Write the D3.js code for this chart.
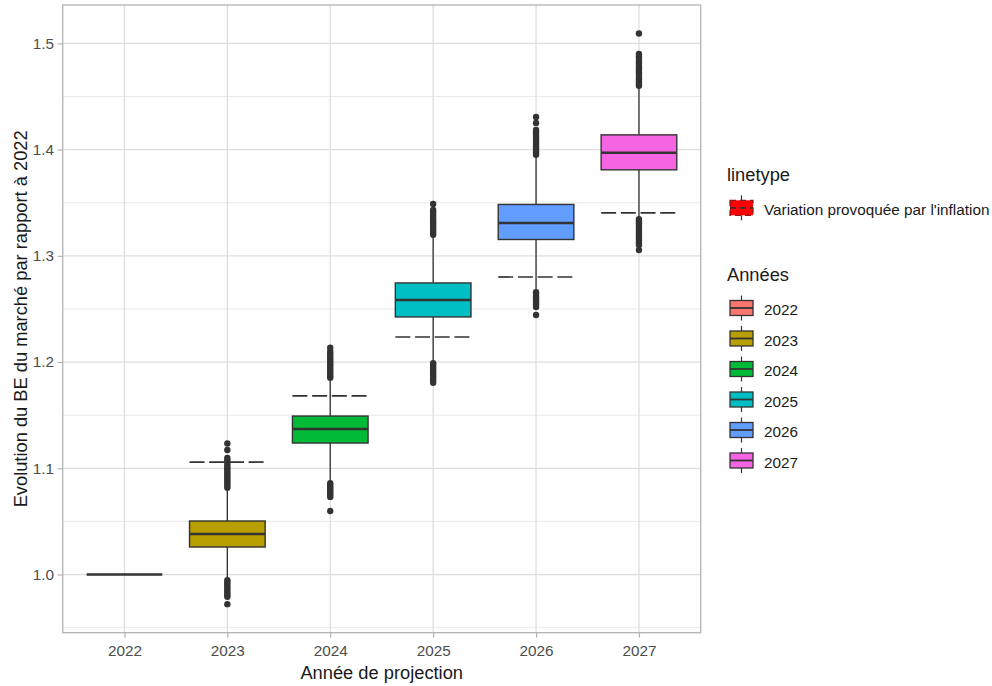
<!DOCTYPE html>
<html>
<head>
<meta charset="utf-8">
<script src="https://cdn.jsdelivr.net/npm/d3@7"></script>
<style>
  html, body { margin: 0; padding: 0; background: #ffffff; }
  svg { display: block; font-family: "Liberation Sans", Arial, sans-serif; }
</style>
</head>
<body>
<svg id="chart" width="992" height="686"></svg>
<script>
// Projected market BE relative to 2022, one boxplot per projection year
const years = ["2022", "2023", "2024", "2025", "2026", "2027"];
const fills = ["#F8766D", "#B79F00", "#00BA38", "#00BFC4", "#619CFF", "#F564E3"];

const lowerWhisker = [1.0000, 0.9948, 1.0862, 1.1992, 1.2660, 1.3347];
const q1           = [1.0000, 1.0259, 1.1238, 1.2425, 1.3154, 1.3810];
const medians      = [1.0000, 1.0381, 1.1370, 1.2585, 1.3310, 1.3970];
const q3           = [1.0000, 1.0504, 1.1492, 1.2745, 1.3484, 1.4139];
const upperWhisker = [1.0000, 1.0814, 1.1850, 1.3197, 1.3950, 1.4600];

// Level implied by inflation alone (dashed segments)
const inflationLevel = [null, 1.1059, 1.1681, 1.2236, 1.2801, 1.3404];

// Outlying simulations beyond the whiskers
const outliers2022 = [];
const outliers2023 = [1.0816, 1.0835, 1.0855, 1.0874, 1.0893, 1.0912, 1.0932, 1.0951, 1.0970, 1.0990,
                      1.1010, 1.1030, 1.1052, 1.1075, 1.1097, 1.1172, 1.1234,
                      0.9946, 0.9928, 0.9907, 0.9885, 0.9866, 0.9846, 0.9827, 0.9808, 0.9790, 0.9721];
const outliers2024 = [1.1852, 1.1871, 1.1890, 1.1910, 1.1931, 1.1952, 1.1972, 1.1991, 1.2012, 1.2033,
                      1.2055, 1.2078, 1.2100, 1.2135,
                      1.0860, 1.0842, 1.0822, 1.0803, 1.0784, 1.0765, 1.0748, 1.0731, 1.0598];
const outliers2025 = [1.3199, 1.3218, 1.3239, 1.3260, 1.3281, 1.3302, 1.3322, 1.3343, 1.3365, 1.3388,
                      1.3410, 1.3432, 1.3489,
                      1.1990, 1.1972, 1.1952, 1.1931, 1.1910, 1.1890, 1.1870, 1.1850, 1.1828, 1.1806];
const outliers2026 = [1.3952, 1.3970, 1.3990, 1.4011, 1.4032, 1.4052, 1.4073, 1.4095, 1.4118, 1.4140,
                      1.4163, 1.4186, 1.4251, 1.4308,
                      1.2658, 1.2640, 1.2620, 1.2600, 1.2580, 1.2560, 1.2540, 1.2519, 1.2443];
const outliers2027 = [1.4602, 1.4622, 1.4642, 1.4662, 1.4683, 1.4704, 1.4725, 1.4746, 1.4767, 1.4788,
                      1.4810, 1.4833, 1.4856, 1.4879, 1.4901, 1.5093,
                      1.3346, 1.3326, 1.3306, 1.3286, 1.3265, 1.3245, 1.3225, 1.3205, 1.3184, 1.3163,
                      1.3142, 1.3122, 1.3102, 1.3054];
const outliers = [outliers2022, outliers2023, outliers2024, outliers2025, outliers2026, outliers2027];

const yMajorTicks = [1.0, 1.1, 1.2, 1.3, 1.4, 1.5];
const yMinorTicks = [0.95, 1.05, 1.15, 1.25, 1.35, 1.45];

const xTitle = "Année de projection";
const yTitle = "Evolution du BE du marché par rapport à 2022";
const linetypeTitle = "linetype";
const linetypeLabel = "Variation provoquée par l'inflation";
const fillTitle = "Années";

// ---- layout ----
const panel = { left: 62.7, right: 700.7, top: 5, bottom: 632.7 };
const svg = d3.select("#chart");

const allValues = d3.merge([lowerWhisker, upperWhisker, ...outliers]);
const lo = d3.min(allValues), hi = d3.max(allValues);
const pad = (hi - lo) * 0.05;

const x = d3.scalePoint().domain(years).range([panel.left, panel.right]).padding(0.6);
const y = d3.scaleLinear().domain([lo - pad, hi + pad]).range([panel.bottom, panel.top]);
const boxW = x.step() * 0.735;

const gridColor = "#DEDEDE";
const frameColor = "#B3B3B3";
const ink = "#333333";

// grid
const grid = svg.append("g");
grid.selectAll("line.minor").data(yMinorTicks).join("line")
  .attr("x1", panel.left).attr("x2", panel.right)
  .attr("y1", d => y(d)).attr("y2", d => y(d))
  .attr("stroke", "#E6E6E6").attr("stroke-width", 0.9);
grid.selectAll("line.major").data(yMajorTicks).join("line")
  .attr("x1", panel.left).attr("x2", panel.right)
  .attr("y1", d => y(d)).attr("y2", d => y(d))
  .attr("stroke", gridColor).attr("stroke-width", 1.3);
grid.selectAll("line.vx").data(years).join("line")
  .attr("x1", d => x(d)).attr("x2", d => x(d))
  .attr("y1", panel.top).attr("y2", panel.bottom)
  .attr("stroke", gridColor).attr("stroke-width", 1.3);

// boxplots
const boxes = svg.append("g").selectAll("g").data(years).join("g");

boxes.append("line")
  .attr("x1", d => x(d)).attr("x2", d => x(d))
  .attr("y1", (d, i) => y(upperWhisker[i])).attr("y2", (d, i) => y(q3[i]))
  .attr("stroke", ink).attr("stroke-width", 1.3);
boxes.append("line")
  .attr("x1", d => x(d)).attr("x2", d => x(d))
  .attr("y1", (d, i) => y(q1[i])).attr("y2", (d, i) => y(lowerWhisker[i]))
  .attr("stroke", ink).attr("stroke-width", 1.3);

boxes.each(function (d, i) {
  d3.select(this).selectAll("circle").data(outliers[i]).join("circle")
    .attr("cx", x(d)).attr("cy", v => y(v)).attr("r", 3.2)
    .attr("fill", ink);
});

boxes.append("rect")
  .attr("x", d => x(d) - boxW / 2).attr("width", boxW)
  .attr("y", (d, i) => y(q3[i])).attr("height", (d, i) => y(q1[i]) - y(q3[i]))
  .attr("fill", (d, i) => fills[i])
  .attr("stroke", ink).attr("stroke-width", 1.4);
boxes.append("line")
  .attr("x1", d => x(d) - boxW / 2).attr("x2", d => x(d) + boxW / 2)
  .attr("y1", (d, i) => y(medians[i])).attr("y2", (d, i) => y(medians[i]))
  .attr("stroke", ink).attr("stroke-width", 2.6);

// inflation reference segments
svg.append("g").selectAll("line")
  .data(years.filter((d, i) => inflationLevel[i] !== null))
  .join("line")
  .attr("x1", d => x(d) - boxW / 2).attr("x2", d => x(d) + boxW / 2)
  .attr("y1", d => y(inflationLevel[years.indexOf(d)]))
  .attr("y2", d => y(inflationLevel[years.indexOf(d)]))
  .attr("stroke", ink).attr("stroke-width", 1.7)
  .attr("stroke-dasharray", "15,4.7");

// panel frame
svg.append("rect")
  .attr("x", panel.left).attr("y", panel.top)
  .attr("width", panel.right - panel.left).attr("height", panel.bottom - panel.top)
  .attr("fill", "none").attr("stroke", frameColor).attr("stroke-width", 1.3);

// axes
const yAxis = svg.append("g")
  .attr("transform", `translate(${panel.left},0)`)
  .call(d3.axisLeft(y).tickValues(yMajorTicks).tickFormat(d3.format(".1f")).tickSize(5).tickPadding(3.6));
const xAxis = svg.append("g")
  .attr("transform", `translate(0,${panel.bottom})`)
  .call(d3.axisBottom(x).tickSize(5).tickPadding(3.6));

[yAxis, xAxis].forEach(g => {
  g.select(".domain").remove();
  g.selectAll(".tick line").attr("stroke", frameColor).attr("stroke-width", 1.2);
  g.selectAll(".tick text")
    .attr("fill", "#4D4D4D")
    .style("font-size", "15.3px")
    .style("font-family", "'Liberation Sans', Arial, sans-serif");
});
xAxis.selectAll(".tick text").attr("dy", null).attr("y", 23.5);

// axis titles
svg.append("text")
  .attr("x", (panel.left + panel.right) / 2).attr("y", 678.5)
  .attr("text-anchor", "middle")
  .style("font-size", "18.3px").attr("fill", "#1A1A1A")
  .text(xTitle);
svg.append("text")
  .attr("transform", `translate(27,${(panel.top + panel.bottom) / 2}) rotate(-90)`)
  .attr("text-anchor", "middle")
  .style("font-size", "18.3px").attr("fill", "#1A1A1A")
  .text(yTitle);

// legends
const legend = svg.append("g");
const keyX = 730, keyW = 23, keyH = 15;

function keyGlyph(g, cy, fill, dashed) {
  const cx = keyX + keyW / 2;
  g.append("line").attr("x1", cx).attr("x2", cx)
    .attr("y1", cy - keyH / 2 - 5).attr("y2", cy - keyH / 2)
    .attr("stroke", ink).attr("stroke-width", 1.2);
  g.append("line").attr("x1", cx).attr("x2", cx)
    .attr("y1", cy + keyH / 2).attr("y2", cy + keyH / 2 + 5)
    .attr("stroke", ink).attr("stroke-width", 1.2);
  g.append("rect").attr("x", keyX).attr("y", cy - keyH / 2)
    .attr("width", keyW).attr("height", keyH)
    .attr("fill", fill).attr("stroke", dashed ? "#8B1A1A" : ink).attr("stroke-width", 1.3)
    .attr("stroke-dasharray", dashed ? "6,4" : null);
  g.append("line").attr("x1", keyX).attr("x2", keyX + keyW)
    .attr("y1", cy).attr("y2", cy)
    .attr("stroke", ink).attr("stroke-width", 1.8)
    .attr("stroke-dasharray", dashed ? "6,4" : null);
}

legend.append("text").attr("x", 727).attr("y", 181)
  .style("font-size", "18.3px").attr("fill", "#1A1A1A").text(linetypeTitle);
keyGlyph(legend.append("g"), 207.8, "#FF0000", true);
legend.append("text").attr("x", 764).attr("y", 214.5)
  .style("font-size", "15.3px").attr("fill", "#1A1A1A").text(linetypeLabel);

legend.append("text").attr("x", 727).attr("y", 281)
  .style("font-size", "18.3px").attr("fill", "#1A1A1A").text(fillTitle);
const items = legend.append("g").selectAll("g").data(years).join("g");
items.each(function (d, i) {
  const cy = 308 + i * 30.5;
  keyGlyph(d3.select(this), cy, fills[i], false);
  d3.select(this).append("text").attr("x", 764).attr("y", cy + 7)
    .style("font-size", "15.3px").attr("fill", "#1A1A1A").text(d);
});
</script>
</body>
</html>
